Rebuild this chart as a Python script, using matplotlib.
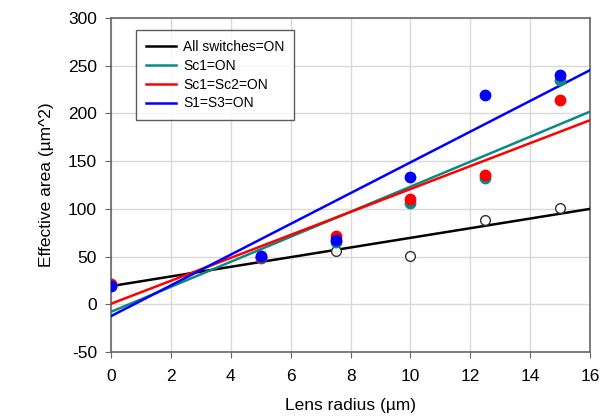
import numpy as np
import matplotlib
matplotlib.use('Agg')
import matplotlib.pyplot as plt

plt.rcParams['font.family'] = ['Liberation Sans', 'DejaVu Sans']
plt.rcParams['axes.unicode_minus'] = False

# measured points (lens radius in um)
radius = [0, 5, 7.5, 10, 12.5, 15]
all_on = [19, 49, 56, 51, 88, 101]
sc1 = [20, 49, 65, 106, 132, 235]
sc1_sc2 = [21, 50, 72, 110, 135, 214]
s1_s3 = [19, 51, 67, 133, 219, 240]

# trend lines read at x=0 and x=16
fit_x = [0, 16]
fit_all = [19, 100]
fit_sc1 = [-8, 202]
fit_sc1_sc2 = [0.5, 193]
fit_s1_s3 = [-12.5, 245.5]

teal = '#0a8a85'

fig = plt.figure(figsize=(6.06, 4.2), dpi=100)
ax = fig.add_axes([0.183, 0.162, 0.791, 0.795])

ax.plot(fit_x, fit_all, color='black', lw=1.8, label='All switches=ON', zorder=3)
ax.plot(fit_x, fit_sc1, color=teal, lw=1.8, label='Sc1=ON', zorder=3)
ax.plot(fit_x, fit_sc1_sc2, color='red', lw=1.8, label='Sc1=Sc2=ON', zorder=3)
ax.plot(fit_x, fit_s1_s3, color='blue', lw=1.8, label='S1=S3=ON', zorder=3)

ax.plot(radius, all_on, 'o', ms=7, mfc='white', mec='#333333', mew=1, ls='none', zorder=4)
ax.plot(radius, sc1, 'o', ms=7.5, color=teal, ls='none', zorder=5)
ax.plot(radius, sc1_sc2, 'o', ms=7.5, color='red', ls='none', zorder=6)
ax.plot(radius, s1_s3, 'o', ms=7.5, color='blue', ls='none', zorder=7)

ax.set_xlim(0, 16)
ax.set_ylim(-50, 300)
ax.set_xticks(np.arange(0, 17, 2))
ax.set_yticks(np.arange(-50, 301, 50))
ax.grid(True, color='#d9d9d9', lw=1)
ax.set_axisbelow(True)
for s in ax.spines.values():
    s.set_color('#666666')
    s.set_linewidth(1.2)
ax.tick_params(direction='out', length=4, color='#666666', labelsize=12.5, pad=6)
ax.tick_params(axis='x', pad=8)

ax.set_xlabel('Lens radius (µm)', fontsize=12.5, labelpad=10)
ax.set_ylabel('Effective area (µm^2)', fontsize=12.5, labelpad=10)

leg = ax.legend(loc='upper left', bbox_to_anchor=(0.052, 0.964), fontsize=10,
                frameon=True, fancybox=False, edgecolor='#333333',
                handlelength=2.2, borderpad=0.7, labelspacing=0.35,
                borderaxespad=0, handletextpad=0.5)
leg.get_frame().set_linewidth(1)

fig.savefig('out.png', dpi=100)
